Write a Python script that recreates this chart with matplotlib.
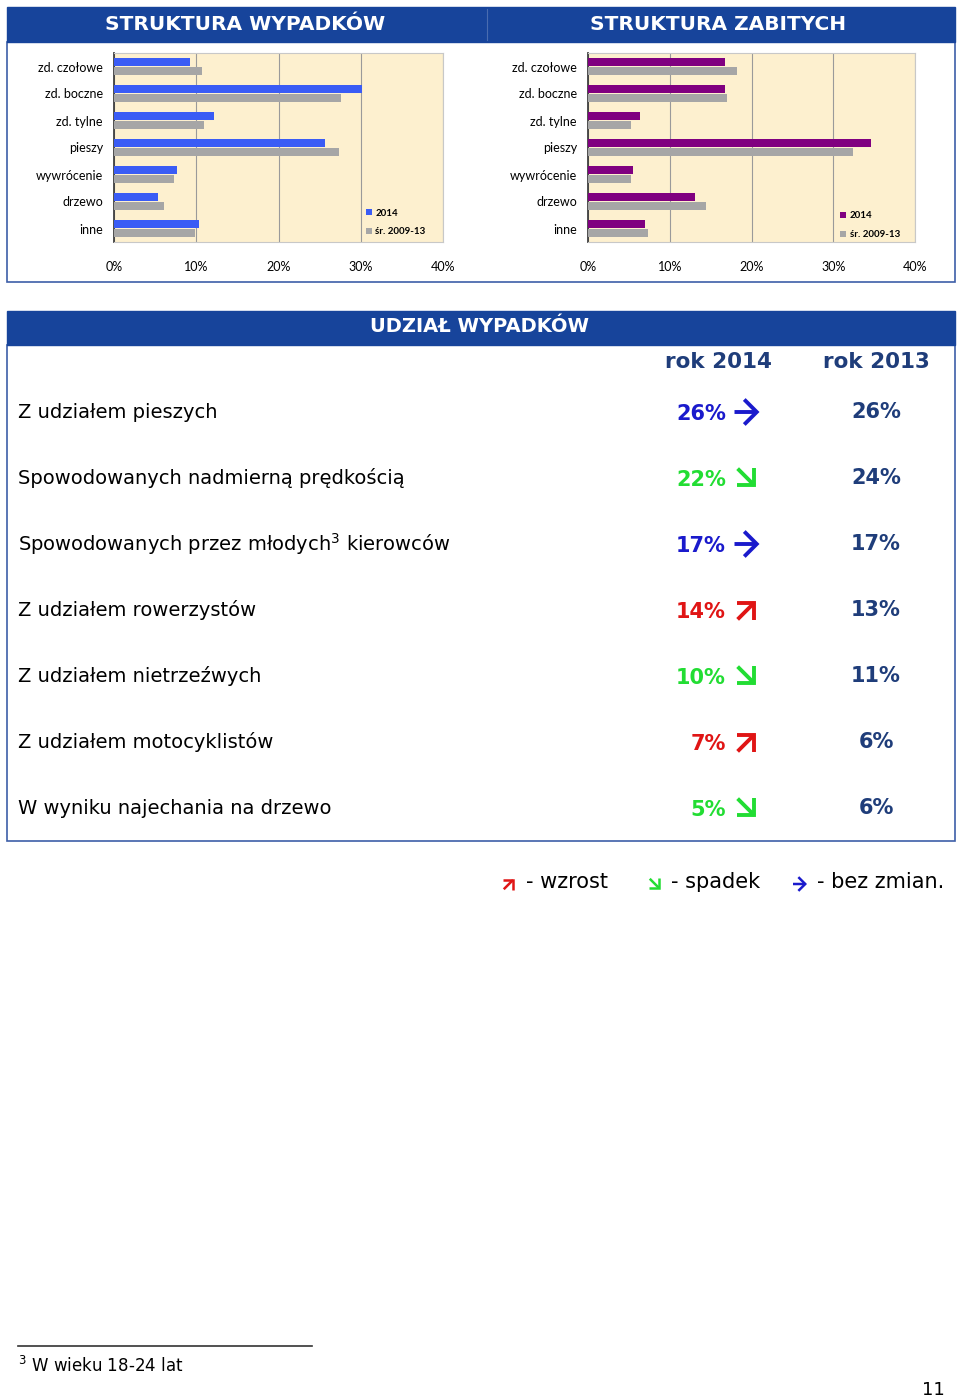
import numpy as np
import matplotlib
matplotlib.use("Agg")
import matplotlib.pyplot as plt
from matplotlib.patches import Rectangle

# data
categories = ["zd. czołowe", "zd. boczne", "zd. tylne", "pieszy", "wywrócenie", "drzewo", "inne"]
wypadki_2014 = [9.2, 30.1, 12.1, 25.6, 7.6, 5.3, 10.3]
wypadki_avg = [10.7, 27.6, 10.9, 27.4, 7.3, 6.1, 9.8]
zabici_2014 = [16.8, 16.8, 6.4, 34.6, 5.5, 13.1, 7.0]
zabici_avg = [18.2, 17.0, 5.3, 32.4, 5.3, 14.4, 7.4]
series_labels = ["2014", "śr. 2009-13"]

row_labels = ["Z udziałem pieszych",
              "Spowodowanych nadmierną prędkością",
              "Spowodowanych przez młodych$^{3}$ kierowców",
              "Z udziałem rowerzystów",
              "Z udziałem nietrzeźwych",
              "Z udziałem motocyklistów",
              "W wyniku najechania na drzewo"]
share_2014 = [26, 22, 17, 14, 10, 7, 5]
share_2013 = [26, 24, 17, 13, 11, 6, 6]

W, H = 960, 1400
HEAD = "#17449b"
BLUE = "#3a5cf5"
PURPLE = "#800080"
GRAY = "#a6a6a6"
CREAM = "#fdf0cf"
DARK = "#1f3d7a"
trend_color = {"up": "#e01515", "down": "#22dd33", "same": "#1a1acc"}

fig = plt.figure(figsize=(W / 100, H / 100), dpi=100)
bg = fig.add_axes([0, 0, 1, 1])
bg.set_xlim(0, W)
bg.set_ylim(H, 0)
bg.axis("off")


def px(x0, y0, x1, y1):
    return [x0 / W, 1 - y1 / H, (x1 - x0) / W, (y1 - y0) / H]


def trend_arrow(x, y, key, s, lw, scale):
    # arrow centred at (x, y), s = half length in pixels
    d = s * 0.75
    if key == "same":
        p0, p1 = (x - s, y), (x + s, y)
    elif key == "up":
        p0, p1 = (x - d, y + d), (x + d, y - d)
    else:
        p0, p1 = (x - d, y - d), (x + d, y + d)
    bg.annotate("", xy=p1, xytext=p0,
                arrowprops=dict(arrowstyle="->,head_length=0.45,head_width=0.45",
                                color=trend_color[key], lw=lw, mutation_scale=scale,
                                shrinkA=0, shrinkB=0, joinstyle="miter", capstyle="butt"))


# top frames
bg.add_patch(Rectangle((7, 42), 948, 240, fill=False, ec="#3d5fa8", lw=1.2))
bg.add_patch(Rectangle((7, 7), 948, 35, color=HEAD))
bg.plot([487, 487], [9, 40], color="#4a6cb0", lw=0.8)
bg.text(245, 24, "STRUKTURA WYPADKÓW", color="white", fontsize=14.5, fontweight="bold",
        ha="center", va="center")
bg.text(718, 24, "STRUKTURA ZABITYCH", color="white", fontsize=14.5, fontweight="bold",
        ha="center", va="center")


def draw_chart(rect, v1, v2, color, leg_x, leg_y):
    ax = fig.add_axes(px(*rect))
    y = np.arange(len(categories))
    ax.barh(y - 0.167, v1, height=0.33, color=color, label=series_labels[0], zorder=3)
    ax.barh(y + 0.167, v2, height=0.33, color=GRAY, label=series_labels[1], zorder=3)
    ax.set_xlim(0, 40)
    ax.set_ylim(6.5, -0.5)
    ax.set_facecolor(CREAM)
    ax.set_xticks(range(0, 41, 10))
    ax.set_xticklabels([f"{t}%" for t in range(0, 41, 10)], fontfamily="Lato", fontsize=9)
    ax.set_yticks(y)
    ax.set_yticklabels(categories, fontfamily="Lato", fontsize=9)
    ax.tick_params(axis="x", length=0, pad=14)
    ax.tick_params(axis="y", length=0, pad=8)
    ax.grid(axis="x", color="#9a9a9a", lw=0.8, zorder=0)
    for s in ["top", "right", "bottom"]:
        ax.spines[s].set_color("#c8c8c8")
        ax.spines[s].set_linewidth(0.8)
    ax.spines["left"].set_color("#404040")
    ax.spines["left"].set_linewidth(1.3)
    ax.legend(loc="lower left", bbox_to_anchor=(leg_x, leg_y), frameon=False,
              borderaxespad=0, borderpad=0, handlelength=0.6, handleheight=0.6,
              handletextpad=0.4, labelspacing=1.0,
              prop={"family": "Lato", "weight": "bold", "size": 7})
    return ax


draw_chart((114, 53, 443, 242), wypadki_2014, wypadki_avg, BLUE, 0.765, 0.03)
draw_chart((588, 53, 915, 242), zabici_2014, zabici_avg, PURPLE, 0.77, 0.015)

# table
bg.add_patch(Rectangle((7, 345), 948, 496, fill=False, ec="#3d5fa8", lw=1.2))
bg.add_patch(Rectangle((7, 311), 948, 34, color=HEAD))
bg.text(480, 327, "UDZIAŁ WYPADKÓW", color="white", fontsize=14, fontweight="bold",
        ha="center", va="center")
bg.text(718, 362, "rok 2014", color=DARK, fontsize=15.5, fontweight="bold", ha="center", va="center")
bg.text(876, 362, "rok 2013", color=DARK, fontsize=15.5, fontweight="bold", ha="center", va="center")

for i, (lab, a, b) in enumerate(zip(row_labels, share_2014, share_2013)):
    yy = 412 + 66 * i
    if a > b:
        key = "up"
    elif a < b:
        key = "down"
    else:
        key = "same"
    col = trend_color[key]
    bg.text(18, yy, lab, fontsize=14, ha="left", va="center")
    bg.text(726, yy + 2, f"{a}%", color=col, fontsize=15, fontweight="bold", ha="right", va="center")
    trend_arrow(747, yy, key, 12.5, 2.8, 20)
    bg.text(876, yy, f"{b}%", color=DARK, fontsize=15, fontweight="bold", ha="center", va="center")

# trend legend
for xa, xt, key, txt in [(509, 526, "up", "- wzrost"),
                         (655, 671, "down", "- spadek"),
                         (800, 817, "same", "- bez zmian.")]:
    trend_arrow(xa, 884, key, 7, 1.8, 11)
    bg.text(xt, 882, txt, fontsize=15, ha="left", va="center")

# footnote
bg.plot([18, 312], [1346, 1346], color="#333333", lw=1.2)
bg.text(18, 1366, "$^{3}$ W wieku 18-24 lat", fontsize=12, ha="left", va="center")
bg.text(945, 1390, "11", fontsize=13, ha="right", va="center")

fig.savefig("out.png", dpi=100)
